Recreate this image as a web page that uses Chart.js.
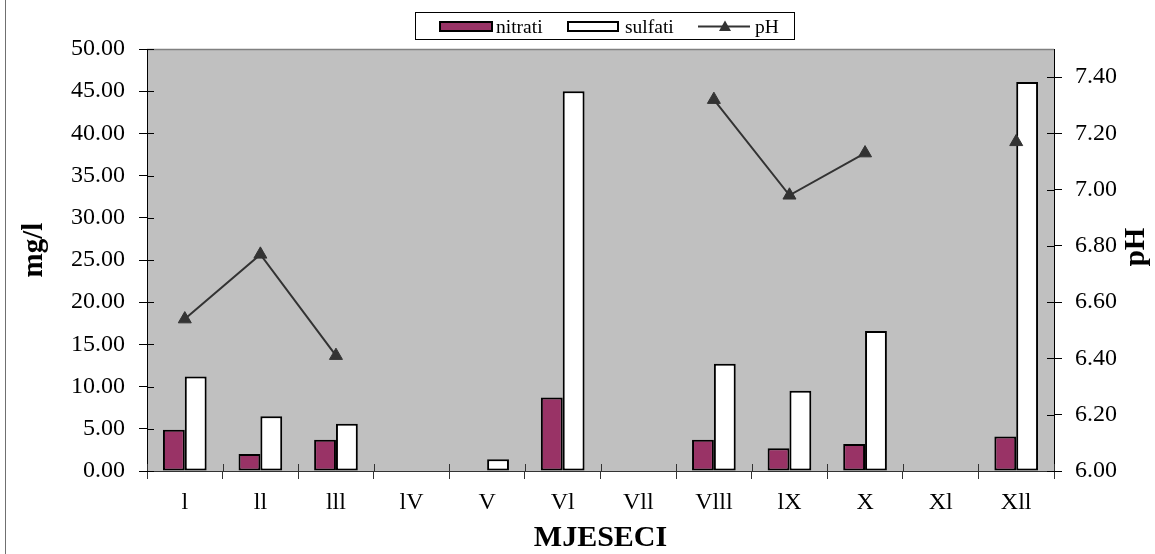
<!DOCTYPE html>
<html><head><meta charset="utf-8">
<script src="https://cdn.jsdelivr.net/npm/chart.js@4"></script>
<style>html,body{margin:0;padding:0;background:#fff}#wrap{width:1155px;height:554px}</style>
</head><body><div id="wrap"><canvas id="c" width="1155" height="554"></canvas></div>
<script>
const months = ['l','ll','lll','lV','V','Vl','Vll','Vlll','lX','X','Xl','Xll'];
const nitrati = [4.9, 2.0, 3.7, null, null, 8.7, null, 3.7, 2.7, 3.2, null, 4.1];
const sulfati = [11.2, 6.5, 5.6, null, 1.4, 45.0, null, 12.7, 9.5, 16.6, null, 46.1];
const pHvals  = [6.54, 6.77, 6.41, null, null, null, null, 7.32, 6.98, 7.13, null, 7.17];
const leftTicks  = [0, 5, 10, 15, 20, 25, 30, 35, 40, 45, 50];
const rightTicks = [6.0, 6.2, 6.4, 6.6, 6.8, 7.0, 7.2, 7.4];
const xTitle = 'MJESECI', yTitle = 'mg/l', y1Title = 'pH';

const FONT = 'Liberation Serif';
Chart.defaults.font.family = FONT;
Chart.defaults.color = '#000';

const deco = {
  id: 'deco',
  beforeDraw(chart) {
    const {ctx, chartArea: a} = chart;
    ctx.save();
    ctx.fillStyle = '#C0C0C0';
    ctx.fillRect(a.left, a.top, a.right - a.left, a.bottom - a.top);
    ctx.strokeStyle = '#808080'; ctx.lineWidth = 1.5;
    ctx.beginPath(); ctx.moveTo(a.left, a.top + 0.5); ctx.lineTo(a.right, a.top + 0.5); ctx.stroke();
    ctx.strokeStyle = '#707070'; ctx.lineWidth = 1;
    ctx.beginPath(); ctx.moveTo(5.5, 0); ctx.lineTo(5.5, 554); ctx.stroke();
    ctx.restore();
  },
  afterDraw(chart) {
    const {ctx, chartArea: a, scales} = chart;
    ctx.save();
    ctx.strokeStyle = '#000'; ctx.lineWidth = 1;
    ctx.beginPath();
    scales.y.ticks.forEach(t => { const y = Math.round(scales.y.getPixelForValue(t.value)) + 0.5; ctx.moveTo(a.left, y); ctx.lineTo(a.left + 7, y); });
    scales.y1.ticks.forEach(t => { const y = Math.round(scales.y1.getPixelForValue(t.value)) + 0.5; ctx.moveTo(a.right - 7, y); ctx.lineTo(a.right, y); });
    ctx.stroke();
    ctx.strokeStyle = '#333';
    ctx.beginPath();
    for (let i = 0; i <= months.length; i++) {
      const x = Math.round(scales.x.getPixelForValue(i - 0.5)) + 0.5;
      ctx.moveTo(x, a.bottom - 7); ctx.lineTo(x, a.bottom);
    }
    ctx.stroke();

    ctx.fillStyle = '#000';
    ctx.textAlign = 'center'; ctx.textBaseline = 'middle';
    ctx.font = 'bold 30px ' + FONT;
    ctx.fillText(xTitle, (a.left + a.right) / 2, 538);
    ctx.font = 'bold 29px ' + FONT;
    ctx.save(); ctx.translate(35, 250); ctx.rotate(-Math.PI / 2); ctx.fillText(yTitle, 0, 0); ctx.restore();
    ctx.save(); ctx.translate(1137, 247); ctx.rotate(-Math.PI / 2); ctx.fillText(y1Title, 0, 0); ctx.restore();

    const ds = chart.data.datasets;
    ctx.fillStyle = '#fff'; ctx.strokeStyle = '#000'; ctx.lineWidth = 1;
    ctx.fillRect(415.5, 12.5, 379, 27); ctx.strokeRect(415.5, 12.5, 379, 27);
    const cy = 26.5;
    ctx.lineWidth = 2;
    ctx.fillStyle = ds[0].backgroundColor; ctx.fillRect(440, 22, 52, 9); ctx.strokeRect(440, 22, 52, 9);
    ctx.fillStyle = ds[1].backgroundColor; ctx.fillRect(568, 22, 50, 9); ctx.strokeRect(568, 22, 50, 9);
    ctx.strokeStyle = ds[2].borderColor; ctx.beginPath(); ctx.moveTo(698, cy); ctx.lineTo(750, cy); ctx.stroke();
    ctx.fillStyle = ds[2].pointBackgroundColor;
    ctx.beginPath(); ctx.moveTo(725, cy - 6); ctx.lineTo(731, cy + 4.5); ctx.lineTo(719, cy + 4.5); ctx.closePath(); ctx.fill();
    ctx.fillStyle = '#000'; ctx.textAlign = 'left'; ctx.textBaseline = 'middle';
    ctx.font = '19.5px ' + FONT;
    ctx.fillText(ds[0].label, 496, cy + 1);
    ctx.fillText(ds[1].label, 625, cy + 1);
    ctx.fillText(ds[2].label, 755, cy + 1);
    ctx.restore();
  }
};

new Chart(document.getElementById('c'), {
  type: 'bar',
  data: {
    labels: months,
    datasets: [
      { label: 'nitrati', data: nitrati, backgroundColor: '#993366', borderColor: '#000', borderWidth: 2, borderSkipped: false, yAxisID: 'y', order: 1, categoryPercentage: 0.578, barPercentage: 1 },
      { label: 'sulfati', data: sulfati, backgroundColor: '#FFFFFF', borderColor: '#000', borderWidth: 2, borderSkipped: false, yAxisID: 'y', order: 1, categoryPercentage: 0.578, barPercentage: 1 },
      { type: 'line', label: 'pH', data: pHvals, yAxisID: 'y1', order: 0, borderColor: '#333333', borderWidth: 2, spanGaps: false,
        pointStyle: 'triangle', pointRadius: 7.5, pointBackgroundColor: '#333333', pointBorderColor: '#333333', pointBorderWidth: 1, tension: 0 }
    ]
  },
  options: {
    responsive: false, animation: false, devicePixelRatio: 1, events: [],
    layout: { padding: { top: 49, left: 0, right: 0, bottom: 0 } },
    plugins: { legend: { display: false }, tooltip: { enabled: false }, title: { display: false } },
    scales: {
      x: {
        offset: true,
        grid: { offset: true, drawOnChartArea: false, drawTicks: true, tickLength: 8, color: '#333' },
        border: { display: true, color: '#333', width: 1 },
        ticks: { font: { family: FONT, size: 24 }, color: '#000', padding: 9, maxRotation: 0, autoSkip: false },
        afterFit(s) { s.height = 83; }
      },
      y: {
        position: 'left', min: 0, max: 50,
        grid: { drawOnChartArea: false, tickLength: 8, color: '#000' },
        border: { display: true, color: '#000', width: 1 },
        ticks: { font: { family: FONT, size: 24 }, color: '#000', padding: 14, callback: v => Number(v).toFixed(2) },
        afterBuildTicks(s) { s.ticks = leftTicks.map(v => ({ value: v })); },
        afterFit(s) { s.width = 147; }
      },
      y1: {
        position: 'right', min: 6, max: 7.5,
        grid: { drawOnChartArea: false, tickLength: 8, color: '#000' },
        border: { display: true, color: '#000', width: 1 },
        ticks: { font: { family: FONT, size: 24 }, color: '#000', padding: 13, callback: v => Number(v).toFixed(2) },
        afterBuildTicks(s) { s.ticks = rightTicks.map(v => ({ value: v })); },
        afterFit(s) { s.width = 101; }
      }
    }
  },
  plugins: [deco]
});
</script>
</body></html>
